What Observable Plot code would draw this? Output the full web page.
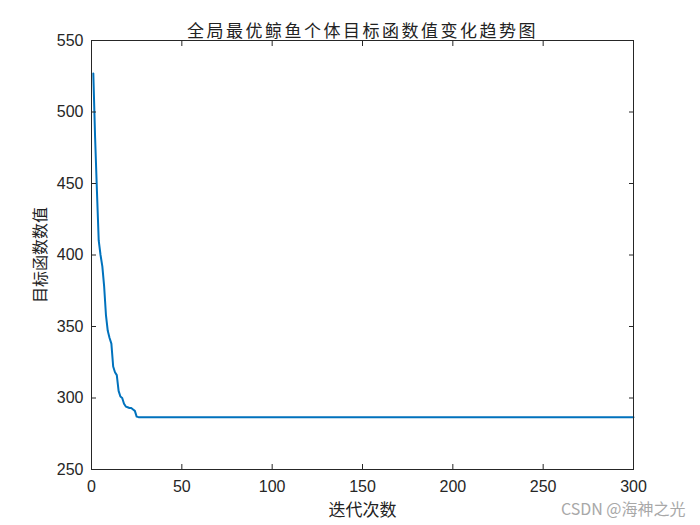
<!DOCTYPE html>
<html>
<head>
<meta charset="utf-8">
<script src="https://cdn.jsdelivr.net/npm/d3@7"></script>
<script src="https://cdn.jsdelivr.net/npm/@observablehq/plot@0.6"></script>
<style>
  html, body { margin: 0; padding: 0; background: #fff; }
  #chart svg { display: block; }
</style>
</head>
<body>
<div id="chart"></div>
<script>
const titleText = "全局最优鲸鱼个体目标函数值变化趋势图";
const xLabel = "迭代次数";
const yLabel = "目标函数数值";
const watermark = "CSDN @海神之光";

const iterations = [1, 2, 3, 4, 5, 6, 7, 8, 9, 10, 11, 12, 13, 14, 15, 16, 17, 18, 19, 20, 21, 22, 23, 24, 25, 26, 300];
const fitness = [527, 482, 445, 410, 400, 392, 378, 358, 347, 342, 338, 322, 318, 316, 305, 301, 300, 296, 294, 293.5, 293, 293, 292, 291, 287, 286.6, 286.6];

const xTicks = [0, 50, 100, 150, 200, 250, 300];
const yTicks = [250, 300, 350, 400, 450, 500, 550];

const data = iterations.map((it, i) => ({it, v: fitness[i]}));

const cjk = "'Noto Sans CJK SC', sans-serif";
const axisColor = "#262626";

const chart = Plot.plot({
  width: 700,
  height: 525,
  marginLeft: 91,
  marginRight: 67,
  marginTop: 40,
  marginBottom: 56,
  style: {fontFamily: "'Liberation Sans', Arial, sans-serif", fontSize: "16px", color: axisColor, background: "#fff", overflow: "visible"},
  x: {domain: [0, 300], ticks: xTicks},
  y: {domain: [250, 550], ticks: yTicks},
  marks: [
    Plot.line(data, {x: "it", y: "v", stroke: "#0072BD", strokeWidth: 2}),
    Plot.frame({stroke: axisColor, strokeWidth: 1}),
    Plot.axisX({anchor: "bottom", ticks: xTicks, tickSize: -5, tickPadding: 16, label: null, stroke: axisColor, fill: axisColor, fontSize: 16}),
    Plot.axisX({anchor: "top", ticks: xTicks, tickSize: -5, tickFormat: () => "", label: null, stroke: axisColor}),
    Plot.axisY({anchor: "left", ticks: yTicks, tickSize: -5, tickPadding: 13, label: null, stroke: axisColor, fill: axisColor, fontSize: 16}),
    Plot.axisY({anchor: "right", ticks: yTicks, tickSize: -5, tickFormat: () => "", label: null, stroke: axisColor}),
    Plot.text([titleText], {frameAnchor: "top", dy: -16, fontFamily: cjk, fontSize: 17, fill: "#222", className: "ttl"}),
    Plot.text([xLabel], {frameAnchor: "bottom", dy: 46, fontFamily: cjk, fontSize: 17, fill: "#222"}),
    Plot.text([yLabel], {frameAnchor: "left", textAnchor: "middle", dx: -51, rotate: -90, fontFamily: cjk, fontSize: 16, fill: "#222"}),
    Plot.text([watermark], {frameAnchor: "bottom-right", dx: 52, dy: 45, textAnchor: "end", fontFamily: cjk, fontSize: 16, fill: "#a8a8a8"})
  ]
});
d3.select(chart).selectAll("g.ttl text").attr("letter-spacing", "2.5px");
document.getElementById("chart").appendChild(chart);
</script>
</body>
</html>
